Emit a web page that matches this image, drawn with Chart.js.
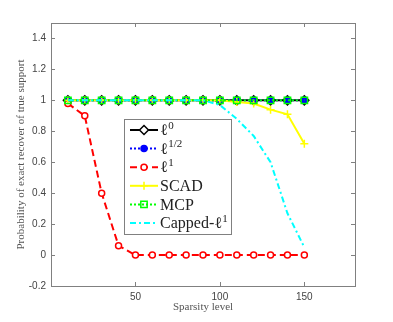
<!DOCTYPE html>
<html>
<head>
<meta charset="utf-8">
<script src="https://cdn.jsdelivr.net/npm/chart.js@4.4.0/dist/chart.umd.min.js"></script>
<style>
  body { margin: 0; background: #fff; }
</style>
</head>
<body>
<canvas id="myChart" width="393" height="322"></canvas>
<script>
// sparsity levels on the x axis
const sparsity = [10, 20, 30, 40, 50, 60, 70, 80, 90, 100, 110, 120, 130, 140, 150];

// probability of exact recovery, one array per method
const l0Prob     = [1, 1, 1, 1, 1, 1, 1, 1, 1, 1, 1, 1, 1, 1, 1];
const lHalfProb  = [1, 1, 1, 1, 1, 1, 1, 1, 1, 1, 1, 1, 1, 1, 1];
const l1Prob     = [0.98, 0.9, 0.4, 0.06, 0, 0, 0, 0, 0, 0, 0, 0, 0, 0, 0];
const scadProb   = [1, 1, 1, 1, 1, 1, 1, 1, 1, 1, 0.99, 0.98, 0.94, 0.91, 0.72];
const mcpProb    = [1, 1, 1, 1, 1, 1, 1, 1, 1, 1, 1, 1, 1, 1, 1];
const cappedProb = [1, 1, 1, 1, 1, 1, 1, 1, 1, 0.97, 0.88, 0.77, 0.6, 0.27, 0.05];

// legend text: base + superscript
const legendBase = ['\u2113', '\u2113', '\u2113', 'SCAD', 'MCP', 'Capped-\u2113'];
const legendSup  = ['0', '1/2', '1', '', '', '1'];

// tick labels
const xTickValues = [50, 100, 150];
const yTickValues = [-0.2, 0, 0.2, 0.4, 0.6, 0.8, 1, 1.2, 1.4];

const ctx = document.getElementById('myChart');

function series(data, color, dash, style, radius, fill, i) {
    return {
        label: legendBase[i] + legendSup[i],
        data: data.map((v, k) => ({ x: sparsity[k], y: v })),
        borderColor: color,
        borderWidth: 2,
        borderDash: dash,
        pointStyle: style,
        pointRadius: radius,
        pointBorderColor: color,
        pointBackgroundColor: fill,
        pointBorderWidth: 1.5,
        tension: 0,
        order: -i   // later series drawn on top, like matlab
    };
}

// box with inward ticks
const framePlugin = {
    id: 'frame',
    afterDraw(chart) {
        const c = chart.ctx;
        const a = chart.chartArea;
        const sx = chart.scales.x, sy = chart.scales.y;
        c.save();
        c.strokeStyle = '#808080';
        c.lineWidth = 1;
        c.strokeRect(a.left + 0.5, a.top + 0.5, a.right - a.left, a.bottom - a.top);
        c.beginPath();
        yTickValues.forEach(v => {
            const p = Math.round(sy.getPixelForValue(v)) + 0.5;
            c.moveTo(a.left, p); c.lineTo(a.left + 4, p);
            c.moveTo(a.right, p); c.lineTo(a.right - 4, p);
        });
        xTickValues.forEach(v => {
            const p = Math.round(sx.getPixelForValue(v)) + 0.5;
            c.moveTo(p, a.bottom); c.lineTo(p, a.bottom - 4);
            c.moveTo(p, a.top); c.lineTo(p, a.top + 4);
        });
        c.stroke();
        c.restore();
    }
};

// legend box inside the axes
const legendPlugin = {
    id: 'boxLegend',
    afterDraw(chart) {
        const c = chart.ctx;
        const bx = 124, by = 119, bw = 107, bh = 115;
        c.save();
        c.fillStyle = '#fff';
        c.fillRect(bx, by, bw, bh);
        c.strokeStyle = '#808080';
        c.lineWidth = 1;
        c.strokeRect(bx + 0.5, by + 0.5, bw, bh);
        chart.data.datasets.forEach((ds, i) => {
            const y = by + 11 + i * 18.6;
            c.strokeStyle = ds.borderColor;
            c.lineWidth = ds.borderWidth;
            c.setLineDash(ds.borderDash || []);
            c.beginPath();
            c.moveTo(bx + 6, y); c.lineTo(bx + 34, y);
            c.stroke();
            c.setLineDash([]);
            if (ds.pointRadius > 0) {
                c.fillStyle = ds.pointBackgroundColor;
                c.strokeStyle = ds.pointBorderColor;
                c.lineWidth = ds.pointBorderWidth;
                Chart.helpers.drawPoint(c, { pointStyle: ds.pointStyle, radius: ds.pointRadius, borderWidth: ds.pointBorderWidth, rotation: 0 }, bx + 20, y);
            }
            c.fillStyle = '#222';
            c.textBaseline = 'middle';
            c.font = '16px "Liberation Serif"';
            const tx = bx + 36;
            const base = legendBase[i];
            c.fillText(base, tx, y + 1);
            if (legendSup[i]) {
                const w = c.measureText(base).width;
                c.font = '11px "Liberation Serif"';
                c.fillText(legendSup[i], tx + w + 0.5, y - 4);
            }
        });
        c.restore();
    }
};

new Chart(ctx, {
    type: 'line',
    data: {
        datasets: [
            series(l0Prob, '#000000', [], 'rectRot', 4.5, '#ffffff', 0),
            series(lHalfProb, '#0000ff', [2, 2], 'circle', 3, '#0000ff', 1),
            series(l1Prob, '#ff0000', [7, 4], 'circle', 3, '#ffffff', 2),
            series(scadProb, '#ffff00', [], 'cross', 4, '#ffff00', 3),
            series(mcpProb, '#00ff00', [2, 2], 'rect', 4.5, 'rgba(0,0,0,0)', 4),
            series(cappedProb, '#00ffff', [6, 3, 2, 3], 'circle', 0, '#00ffff', 5)
        ]
    },
    options: {
        responsive: false,
        animation: false,
        layout: { padding: { top: 23, right: 38, left: 0, bottom: 0 } },
        plugins: {
            legend: { display: false },
            tooltip: { enabled: false }
        },
        scales: {
            x: {
                type: 'linear',
                min: 0,
                max: 180,
                afterBuildTicks: s => { s.ticks = xTickValues.map(v => ({ value: v })); },
                afterFit: s => { s.height = 36; },
                grid: { display: false, drawTicks: false },
                border: { display: false },
                ticks: { color: '#444', padding: 5, font: { family: 'Liberation Sans', size: 10 } },
                title: { display: true, text: 'Sparsity level', color: '#555',
                         font: { family: 'Liberation Serif', size: 11 }, padding: { top: 0, bottom: 8 } }
            },
            y: {
                type: 'linear',
                min: -0.2,
                max: 1.5,
                afterBuildTicks: s => { s.ticks = yTickValues.map(v => ({ value: v })); },
                afterFit: s => { s.width = 51; },
                grid: { display: false, drawTicks: false },
                border: { display: false },
                ticks: { color: '#444', padding: 5, font: { family: 'Liberation Sans', size: 10 },
                         callback: v => String(Math.round(v * 10) / 10) },
                title: { display: true, text: 'Probability of exact recover of true support', color: '#555',
                         font: { family: 'Liberation Serif', size: 11 }, padding: { top: 15, bottom: 0 } }
            }
        }
    },
    plugins: [framePlugin, legendPlugin]
});
</script>
</body>
</html>
